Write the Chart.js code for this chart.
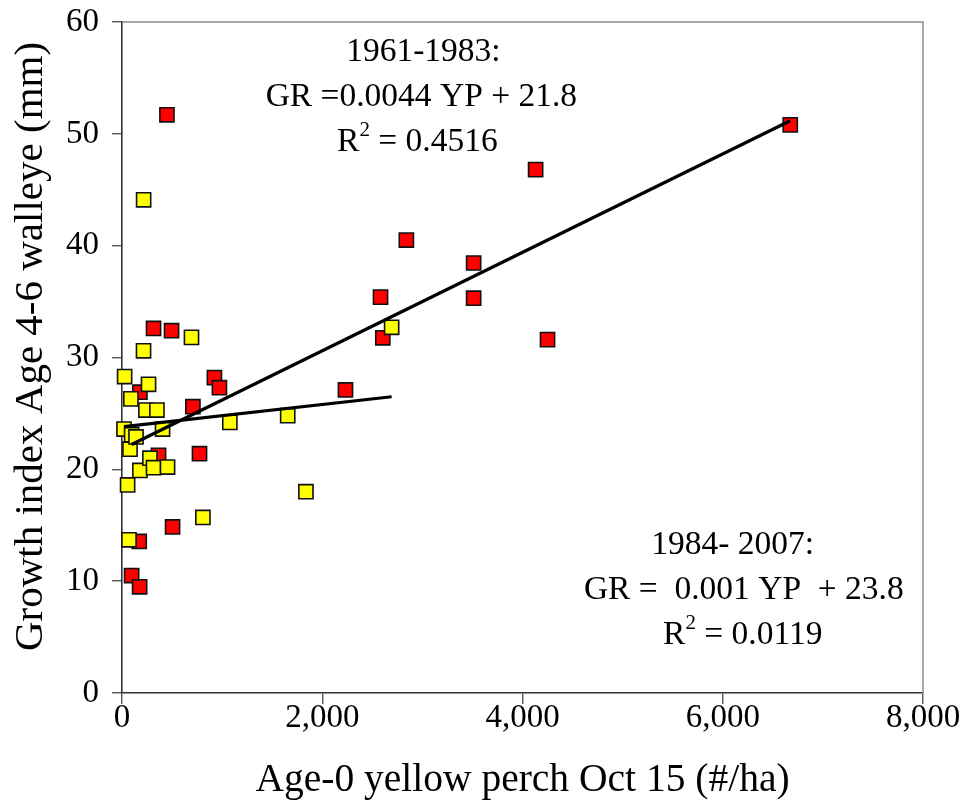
<!DOCTYPE html>
<html><head><meta charset="utf-8">
<script src="https://cdn.jsdelivr.net/npm/chart.js@4.4.0/dist/chart.umd.min.js"></script>
<style>html,body{margin:0;padding:0;background:#fff}#wrap{width:964px;height:805px}</style>
</head><body><div id="wrap"><canvas id="c" width="964" height="805"></canvas></div>
<script>
// 1961-1983 (red)
const perchEarly  = [96, 176, 172, 505, 179, 315, 365, 449, 495, 708, 774, 923, 973, 2232, 2582, 2605, 2840, 3512, 3512, 4131, 4250, 6674];
const growthEarly = [10.5, 9.5, 13.55, 14.85, 26.9, 32.6, 21.25, 51.7, 32.4, 25.6, 21.4, 28.2, 27.3, 27.1, 35.4, 31.76, 40.5, 38.45, 35.3, 46.8, 31.6, 50.8];
// 1984-2007 (yellow)
const perchLate  = [20, 26, 56, 70, 80, 89, 96, 140, 179, 215, 216, 239, 265, 279, 315, 349, 405, 455, 694, 808, 1077, 1655, 1837, 2693];
const growthLate = [23.6, 28.3, 18.6, 13.7, 21.8, 26.3, 23.1, 22.9, 19.9, 30.6, 44.1, 25.3, 27.6, 21.0, 20.15, 25.3, 23.6, 20.2, 31.8, 15.7, 24.2, 24.8, 18.0, 32.7];
// fitted trend lines as printed on the chart
const fitEarly = { slope: 0.0044, intercept: 21.8 };
const fitLate  = { slope: 0.001,  intercept: 23.8 };
const xTicks = [0, 2000, 4000, 6000, 8000];
const yTicks = [0, 10, 20, 30, 40, 50, 60];
const xTitle = 'Age-0 yellow perch Oct 15 (#/ha)';
const yTitle = 'Growth index Age 4-6 walleye (mm)';
const notes = [
  { x: 2990, y: 57.3, lines: [['1961-1983:', 20], ['GR =0.0044 YP + 21.8', 0], [['R', '2', ' = 0.4516'], -40]] },
  { x: 6210, y: 13.2, lines: [['1984- 2007:', -110], ['GR =  0.001 YP  + 23.8', 0], [['R', '2', ' = 0.0119'], -10]] }
];

function pts(xs, ys) { return xs.map((x, i) => ({ x: x, y: ys[i] })); }
function fitLine(xs, f) {
  const lo = Math.min(...xs), hi = Math.max(...xs);
  return [{ x: lo, y: f.slope * lo + f.intercept }, { x: hi, y: f.slope * hi + f.intercept }];
}

const SERIF = "'Liberation Serif', 'Times New Roman', serif";

const frame = {
  id: 'frame',
  beforeDatasetsDraw(chart) {
    const a = chart.chartArea, ctx = chart.ctx;
    ctx.save();
    ctx.strokeStyle = '#8c8c8c';
    ctx.lineWidth = 1.5;
    ctx.beginPath();
    ctx.moveTo(a.left, a.top); ctx.lineTo(a.right, a.top); ctx.lineTo(a.right, a.bottom);
    ctx.stroke();
    ctx.restore();
  }
};

const yTitlePlugin = {
  id: 'ytitle',
  afterDraw(chart) {
    const ctx = chart.ctx, a = chart.chartArea;
    ctx.save();
    ctx.fillStyle = '#000';
    ctx.font = '41px ' + SERIF;
    ctx.textAlign = 'center';
    ctx.textBaseline = 'middle';
    ctx.translate(31, (a.top + a.bottom) / 2 - 11);
    ctx.rotate(-Math.PI / 2);
    ctx.fillText(yTitle, 0, 0);
    ctx.restore();
  }
};

const annot = {
  id: 'annot',
  afterDraw(chart) {
    const ctx = chart.ctx, xs = chart.scales.x, ys = chart.scales.y;
    ctx.save();
    ctx.fillStyle = '#000';
    ctx.textBaseline = 'middle';
    const fs = 33.5, lh = 45;
    const main = fs + 'px ' + SERIF, sup = Math.round(fs * 0.62) + 'px ' + SERIF;
    notes.forEach(n => {
      const cy = ys.getPixelForValue(n.y);
      n.lines.forEach(([ln, dx], i) => {
        const cx = xs.getPixelForValue(n.x + dx);
        const y = cy + i * lh;
        ctx.font = main;
        if (typeof ln === 'string') {
          ctx.textAlign = 'center';
          ctx.fillText(ln, cx, y);
        } else {
          const w0 = ctx.measureText(ln[0]).width, w2 = ctx.measureText(ln[2]).width;
          ctx.font = sup;
          const w1 = ctx.measureText(ln[1]).width;
          let x = cx - (w0 + w1 + w2) / 2;
          ctx.textAlign = 'left';
          ctx.font = main;
          ctx.fillText(ln[0], x, y); x += w0;
          ctx.font = sup;
          ctx.fillText(ln[1], x, y - 12); x += w1;
          ctx.font = main;
          ctx.fillText(ln[2], x, y);
        }
      });
    });
    ctx.restore();
  }
};

const pointStyle = (bg) => ({
  pointStyle: 'rect', pointRadius: 10, pointHoverRadius: 10,
  backgroundColor: bg, borderColor: '#111', borderWidth: 1.6, showLine: false, clip: false
});

new Chart(document.getElementById('c'), {
  type: 'scatter',
  data: {
    datasets: [
      { label: 'fit 1961-1983', data: fitLine(perchEarly, fitEarly), showLine: true, borderColor: '#000', borderWidth: 3.2, pointRadius: 0, fill: false, clip: false },
      { label: 'fit 1984-2007', data: fitLine(perchLate, fitLate), showLine: true, borderColor: '#000', borderWidth: 3.2, pointRadius: 0, fill: false, clip: false },
      Object.assign({ label: '1984-2007', data: pts(perchLate, growthLate) }, pointStyle('#ffff00')),
      Object.assign({ label: '1961-1983', data: pts(perchEarly, growthEarly) }, pointStyle('#ff0000'))
    ]
  },
  options: {
    responsive: false,
    animation: false,
    devicePixelRatio: 1,
    layout: { padding: { left: 0, right: 41, top: 22, bottom: 0 } },
    plugins: { legend: { display: false }, tooltip: { enabled: false } },
    scales: {
      x: {
        type: 'linear', min: 0, max: 8000,
        afterBuildTicks: s => { s.ticks = xTicks.map(v => ({ value: v })); },
        afterFit: s => { s.height = 112; s.paddingLeft = 0; s.paddingRight = 0; },
        border: { display: true, color: '#333', width: 1.6 },
        grid: { display: true, drawOnChartArea: false, drawTicks: true, tickLength: 11, color: '#555', lineWidth: 1.4 },
        ticks: { color: '#000', padding: -5, maxRotation: 0, font: { family: SERIF, size: 33 },
                 callback: v => v.toLocaleString('en-US') },
        title: { display: true, text: xTitle, color: '#000', font: { family: SERIF, size: 39.5 }, padding: { top: 0, bottom: 1 } }
      },
      y: {
        type: 'linear', min: 0, max: 60,
        afterBuildTicks: s => { s.ticks = yTicks.map(v => ({ value: v })); },
        afterFit: s => { s.width = 122; s.paddingTop = 0; s.paddingBottom = 0; },
        border: { display: true, color: '#333', width: 1.6 },
        grid: { display: true, drawOnChartArea: false, drawTicks: true, tickLength: 10, color: '#555', lineWidth: 1.4 },
        ticks: { color: '#000', padding: 13, font: { family: SERIF, size: 33 } },
        title: { display: false }
      }
    }
  },
  plugins: [frame, annot, yTitlePlugin]
});
</script>
</body></html>
